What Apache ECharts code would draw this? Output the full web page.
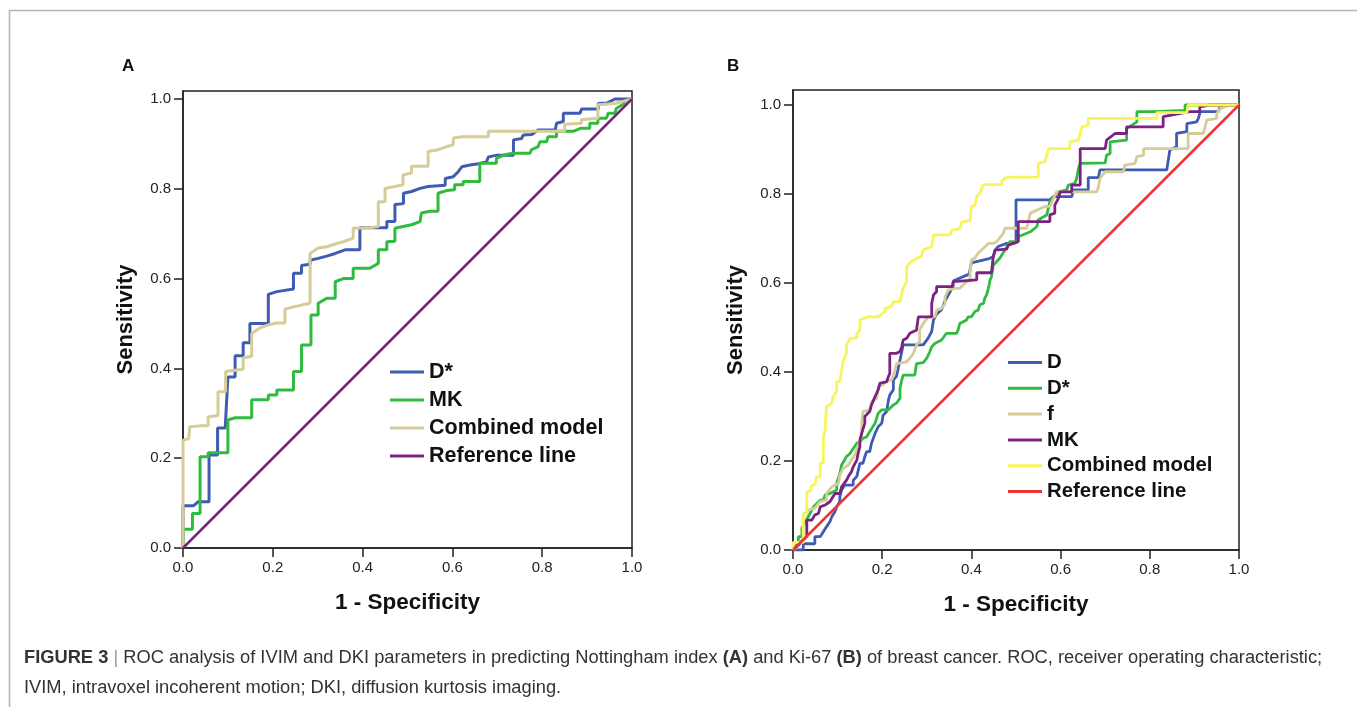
<!DOCTYPE html>
<html>
<head>
<meta charset="utf-8">
<title>ROC analysis</title>
<script src="https://cdn.jsdelivr.net/npm/echarts@6/dist/echarts.min.js"></script>
<style>
  html, body { margin: 0; padding: 0; background: #fff; }
  #chart { width: 1357px; height: 707px; }
</style>
</head>
<body>
<div id="chart"></div>
<script>
// ticks shared by both panels
const tickValues = [0, 0.2, 0.4, 0.6, 0.8, 1.0]

// Panel A: Nottingham index
const legendA = ['D*', 'MK', 'Combined model', 'Reference line']
const aDStar = [[0,0],[0,0.094],[0.023,0.094],[0.034,0.103],[0.058,0.103],[0.058,0.207],[0.077,0.207],[0.077,0.267],[0.094,0.267],[0.1,0.381],[0.116,0.381],[0.116,0.428],[0.134,0.428],[0.134,0.457],[0.149,0.457],[0.149,0.5],[0.19,0.5],[0.19,0.565],[0.209,0.571],[0.246,0.577],[0.246,0.612],[0.264,0.612],[0.264,0.629],[0.283,0.632],[0.283,0.641],[0.301,0.645],[0.32,0.65],[0.339,0.656],[0.361,0.664],[0.394,0.664],[0.394,0.713],[0.454,0.713],[0.454,0.727],[0.472,0.727],[0.472,0.765],[0.491,0.767],[0.491,0.79],[0.509,0.794],[0.528,0.801],[0.546,0.805],[0.546,0.808],[0.584,0.808],[0.584,0.823],[0.602,0.827],[0.613,0.838],[0.621,0.849],[0.639,0.853],[0.658,0.856],[0.676,0.86],[0.68,0.871],[0.699,0.875],[0.736,0.875],[0.736,0.909],[0.754,0.912],[0.758,0.92],[0.777,0.921],[0.791,0.931],[0.829,0.931],[0.832,0.946],[0.847,0.95],[0.847,0.968],[0.884,0.968],[0.888,0.978],[0.925,0.978],[0.925,0.99],[0.944,0.991],[0.962,1],[1,1]]
const aMK = [[0,0],[0,0.042],[0.021,0.042],[0.021,0.077],[0.038,0.077],[0.038,0.203],[0.056,0.203],[0.056,0.212],[0.1,0.212],[0.1,0.285],[0.116,0.29],[0.153,0.29],[0.153,0.33],[0.19,0.33],[0.19,0.341],[0.209,0.341],[0.209,0.352],[0.246,0.352],[0.246,0.393],[0.264,0.393],[0.264,0.452],[0.285,0.452],[0.285,0.519],[0.301,0.519],[0.301,0.545],[0.32,0.556],[0.339,0.556],[0.339,0.593],[0.357,0.6],[0.379,0.6],[0.379,0.623],[0.416,0.623],[0.435,0.634],[0.435,0.664],[0.454,0.664],[0.454,0.682],[0.472,0.683],[0.472,0.712],[0.49,0.716],[0.509,0.72],[0.528,0.727],[0.531,0.746],[0.55,0.75],[0.568,0.75],[0.568,0.79],[0.587,0.796],[0.605,0.798],[0.605,0.809],[0.624,0.809],[0.624,0.816],[0.661,0.816],[0.661,0.857],[0.698,0.857],[0.698,0.868],[0.717,0.876],[0.735,0.879],[0.773,0.879],[0.776,0.887],[0.791,0.894],[0.795,0.905],[0.81,0.905],[0.813,0.916],[0.832,0.916],[0.832,0.928],[0.869,0.928],[0.887,0.935],[0.906,0.935],[0.906,0.946],[0.924,0.946],[0.924,0.957],[0.943,0.957],[0.947,0.968],[0.962,0.968],[0.965,0.979],[1,1]]
const aCombined = [[0,0],[0,0.24],[0.013,0.244],[0.015,0.27],[0.037,0.272],[0.056,0.272],[0.056,0.292],[0.078,0.295],[0.078,0.348],[0.095,0.348],[0.095,0.393],[0.116,0.396],[0.134,0.398],[0.134,0.423],[0.153,0.427],[0.153,0.478],[0.171,0.49],[0.19,0.497],[0.208,0.501],[0.227,0.501],[0.227,0.532],[0.246,0.537],[0.264,0.541],[0.283,0.545],[0.283,0.656],[0.301,0.668],[0.32,0.671],[0.339,0.677],[0.357,0.682],[0.379,0.69],[0.379,0.712],[0.416,0.713],[0.435,0.716],[0.435,0.771],[0.45,0.771],[0.45,0.801],[0.472,0.805],[0.49,0.809],[0.49,0.831],[0.509,0.835],[0.509,0.85],[0.546,0.85],[0.546,0.883],[0.568,0.887],[0.587,0.894],[0.602,0.898],[0.602,0.913],[0.62,0.916],[0.68,0.916],[0.68,0.928],[0.85,0.928],[0.85,0.944],[0.887,0.946],[0.887,0.954],[0.924,0.957],[0.924,0.987],[0.962,0.99],[1,1]]
const aRef = [[0,0],[1,1]]

// Panel B: Ki-67
const legendB = ['D', 'D*', 'f', 'MK', 'Combined model', 'Reference line']
const bD = [[0,0],[0.023,0],[0.023,0.014],[0.049,0.014],[0.049,0.03],[0.061,0.03],[0.068,0.041],[0.075,0.052],[0.083,0.064],[0.087,0.075],[0.094,0.086],[0.098,0.097],[0.105,0.109],[0.105,0.12],[0.109,0.135],[0.116,0.146],[0.135,0.146],[0.135,0.157],[0.143,0.165],[0.15,0.195],[0.157,0.195],[0.161,0.21],[0.165,0.221],[0.172,0.221],[0.176,0.24],[0.184,0.262],[0.188,0.262],[0.191,0.277],[0.199,0.285],[0.202,0.303],[0.21,0.311],[0.214,0.337],[0.217,0.348],[0.225,0.36],[0.225,0.382],[0.232,0.39],[0.24,0.427],[0.247,0.461],[0.292,0.461],[0.303,0.476],[0.311,0.491],[0.315,0.517],[0.322,0.53],[0.333,0.54],[0.341,0.56],[0.355,0.585],[0.36,0.605],[0.395,0.62],[0.4,0.645],[0.44,0.655],[0.449,0.659],[0.453,0.674],[0.46,0.682],[0.479,0.689],[0.5,0.69],[0.5,0.787],[0.576,0.787],[0.584,0.794],[0.625,0.794],[0.629,0.809],[0.662,0.809],[0.662,0.837],[0.685,0.837],[0.688,0.854],[0.838,0.854],[0.845,0.899],[0.86,0.906],[0.86,0.936],[0.883,0.94],[0.883,0.958],[0.905,0.962],[0.909,0.97],[0.913,0.985],[0.954,0.985],[0.958,0.998],[1,1]]
const bDStar = [[0,0],[0.012,0.017],[0.012,0.03],[0.02,0.03],[0.02,0.049],[0.03,0.067],[0.038,0.082],[0.046,0.097],[0.061,0.112],[0.068,0.112],[0.072,0.124],[0.075,0.124],[0.083,0.127],[0.098,0.135],[0.098,0.15],[0.105,0.172],[0.109,0.191],[0.12,0.21],[0.128,0.217],[0.135,0.228],[0.143,0.24],[0.15,0.243],[0.157,0.251],[0.165,0.254],[0.172,0.266],[0.184,0.285],[0.191,0.307],[0.199,0.315],[0.214,0.315],[0.225,0.326],[0.232,0.33],[0.24,0.341],[0.24,0.364],[0.244,0.382],[0.247,0.393],[0.273,0.393],[0.277,0.419],[0.292,0.421],[0.3,0.431],[0.307,0.446],[0.311,0.457],[0.318,0.464],[0.333,0.472],[0.333,0.476],[0.344,0.487],[0.367,0.487],[0.37,0.494],[0.374,0.509],[0.389,0.517],[0.393,0.524],[0.4,0.524],[0.408,0.536],[0.415,0.539],[0.419,0.551],[0.427,0.554],[0.43,0.566],[0.434,0.573],[0.438,0.588],[0.442,0.607],[0.445,0.614],[0.449,0.64],[0.464,0.656],[0.475,0.674],[0.486,0.693],[0.505,0.693],[0.505,0.704],[0.532,0.715],[0.547,0.727],[0.55,0.742],[0.569,0.753],[0.576,0.783],[0.595,0.805],[0.614,0.809],[0.617,0.82],[0.632,0.824],[0.636,0.835],[0.64,0.858],[0.644,0.869],[0.7,0.87],[0.703,0.887],[0.711,0.891],[0.711,0.917],[0.748,0.921],[0.748,0.947],[0.771,0.962],[0.771,0.985],[0.812,0.985],[0.816,0.987],[0.879,0.988],[0.879,1],[1,1]]
const bF = [[0,0],[0.012,0.008],[0.023,0.023],[0.023,0.079],[0.035,0.09],[0.049,0.094],[0.061,0.109],[0.075,0.112],[0.075,0.127],[0.087,0.142],[0.102,0.15],[0.105,0.169],[0.113,0.184],[0.124,0.191],[0.131,0.202],[0.139,0.214],[0.143,0.228],[0.15,0.243],[0.154,0.258],[0.154,0.285],[0.157,0.311],[0.172,0.315],[0.176,0.333],[0.188,0.341],[0.191,0.367],[0.202,0.371],[0.206,0.378],[0.221,0.382],[0.228,0.401],[0.232,0.419],[0.255,0.423],[0.262,0.431],[0.27,0.442],[0.277,0.461],[0.284,0.468],[0.284,0.495],[0.292,0.509],[0.296,0.513],[0.303,0.524],[0.318,0.524],[0.322,0.539],[0.333,0.543],[0.341,0.554],[0.341,0.569],[0.348,0.584],[0.359,0.588],[0.374,0.588],[0.385,0.599],[0.397,0.607],[0.397,0.622],[0.4,0.626],[0.4,0.652],[0.408,0.656],[0.415,0.667],[0.427,0.678],[0.438,0.689],[0.449,0.689],[0.457,0.693],[0.472,0.712],[0.475,0.723],[0.524,0.723],[0.532,0.757],[0.565,0.772],[0.576,0.772],[0.584,0.79],[0.591,0.805],[0.681,0.805],[0.685,0.816],[0.688,0.835],[0.7,0.85],[0.741,0.85],[0.744,0.865],[0.767,0.869],[0.771,0.884],[0.786,0.887],[0.786,0.902],[0.886,0.902],[0.886,0.936],[0.92,0.936],[0.924,0.951],[0.928,0.966],[0.95,0.97],[0.95,0.981],[0.958,0.992],[0.98,1],[1,1]]
const bMK = [[0,0],[0.031,0.031],[0.031,0.067],[0.042,0.067],[0.049,0.079],[0.057,0.082],[0.061,0.097],[0.072,0.101],[0.083,0.109],[0.09,0.12],[0.094,0.127],[0.105,0.127],[0.109,0.142],[0.12,0.157],[0.124,0.165],[0.131,0.176],[0.135,0.187],[0.143,0.202],[0.146,0.217],[0.15,0.232],[0.15,0.247],[0.154,0.262],[0.161,0.285],[0.161,0.3],[0.172,0.311],[0.176,0.326],[0.184,0.345],[0.191,0.36],[0.195,0.375],[0.21,0.378],[0.214,0.39],[0.217,0.397],[0.217,0.442],[0.232,0.442],[0.24,0.446],[0.244,0.457],[0.247,0.472],[0.255,0.476],[0.262,0.487],[0.27,0.491],[0.277,0.494],[0.281,0.524],[0.311,0.524],[0.311,0.554],[0.315,0.573],[0.322,0.581],[0.322,0.592],[0.359,0.592],[0.359,0.603],[0.412,0.607],[0.412,0.623],[0.445,0.623],[0.449,0.659],[0.453,0.674],[0.479,0.676],[0.483,0.685],[0.487,0.689],[0.505,0.693],[0.505,0.738],[0.576,0.738],[0.576,0.753],[0.587,0.757],[0.587,0.775],[0.595,0.79],[0.599,0.805],[0.625,0.805],[0.625,0.82],[0.644,0.82],[0.644,0.902],[0.7,0.902],[0.703,0.921],[0.722,0.936],[0.748,0.936],[0.748,0.951],[0.83,0.951],[0.83,0.974],[0.89,0.985],[0.912,0.985],[0.912,0.996],[0.935,1],[1,1]]
const bCombined = [[0,0],[0,0.017],[0.023,0.017],[0.023,0.079],[0.031,0.082],[0.031,0.131],[0.038,0.131],[0.042,0.146],[0.049,0.146],[0.053,0.165],[0.061,0.165],[0.061,0.195],[0.068,0.196],[0.068,0.254],[0.072,0.269],[0.075,0.322],[0.087,0.33],[0.09,0.345],[0.098,0.356],[0.098,0.378],[0.105,0.378],[0.109,0.404],[0.113,0.427],[0.12,0.442],[0.12,0.461],[0.128,0.476],[0.143,0.476],[0.143,0.487],[0.15,0.494],[0.15,0.517],[0.169,0.524],[0.191,0.524],[0.206,0.536],[0.206,0.543],[0.221,0.547],[0.225,0.558],[0.24,0.558],[0.244,0.577],[0.247,0.588],[0.255,0.603],[0.255,0.637],[0.262,0.645],[0.277,0.656],[0.288,0.66],[0.292,0.674],[0.311,0.682],[0.315,0.708],[0.352,0.708],[0.356,0.719],[0.374,0.722],[0.378,0.737],[0.397,0.741],[0.4,0.771],[0.408,0.775],[0.412,0.794],[0.419,0.802],[0.427,0.821],[0.468,0.821],[0.468,0.828],[0.475,0.836],[0.486,0.838],[0.55,0.838],[0.55,0.869],[0.565,0.872],[0.569,0.887],[0.573,0.902],[0.621,0.902],[0.621,0.917],[0.64,0.921],[0.644,0.936],[0.648,0.951],[0.662,0.955],[0.662,0.97],[0.816,0.97],[0.816,0.983],[0.883,0.983],[0.886,1],[1,1]]
const bRef = [[0,0],[1,1]]

const colorsA = ['#3f5bb2', '#2fbb3e', '#d5cc97', '#7c2280']
const colorsB = ['#3f5bb2', '#2fbb3e', '#d5cc97', '#7c2280', '#f8f55c', '#ef3434']

const FONT = '"Liberation Sans", Arial, Helvetica, sans-serif'

const chart = echarts.init(document.getElementById('chart'), null, { renderer: 'canvas' })

const makeGrid = (left, top, width, height) => ({
  left, top, width, height,
  show: true,
  borderColor: '#222',
  borderWidth: 1.5,
  containLabel: false
})

const makeX = (gridIndex) => ({
  gridIndex,
  type: 'value',
  min: 0,
  max: 1,
  interval: 0.2,
  name: '1 - Specificity',
  nameLocation: 'middle',
  nameGap: 43,
  nameTextStyle: { fontFamily: FONT, fontWeight: 'bold', fontSize: 22.5, color: '#111' },
  axisLine: { show: true, lineStyle: { color: '#222', width: 1.5 } },
  axisTick: { show: true, length: 9, lineStyle: { color: '#222', width: 1.5 } },
  axisLabel: { margin: 12, fontFamily: FONT, fontSize: 15, color: '#222', formatter: v => v.toFixed(1) },
  splitLine: { show: false }
})

const makeY = (gridIndex, max) => ({
  gridIndex,
  type: 'value',
  min: 0,
  max,
  name: 'Sensitivity',
  nameLocation: 'middle',
  nameGap: 46,
  nameRotate: 90,
  nameTextStyle: { fontFamily: FONT, fontWeight: 'bold', fontSize: 22, color: '#111' },
  axisLine: { show: true, lineStyle: { color: '#222', width: 1.5 } },
  axisTick: { show: true, length: 9, customValues: tickValues, lineStyle: { color: '#222', width: 1.5 } },
  axisLabel: {
    margin: 12, fontFamily: FONT, fontSize: 15, color: '#222',
    customValues: tickValues,
    formatter: v => v.toFixed(1)
  },
  splitLine: { show: false }
})

const makeSeries = (panel, name, data, color, idx, width) => ({
  name: panel + '|' + name,
  type: 'line',
  xAxisIndex: idx,
  yAxisIndex: idx,
  data,
  symbol: 'none',
  showSymbol: false,
  lineStyle: { color, width },
  itemStyle: { color },
  emphasis: { disabled: true }
})

const seriesA = [aDStar, aMK, aCombined, aRef].map((d, i) =>
  makeSeries('A', legendA[i], d, colorsA[i], 0, i === 3 ? 2.5 : 3))
const seriesB = [bD, bDStar, bF, bMK, bCombined, bRef].map((d, i) =>
  makeSeries('B', legendB[i], d, colorsB[i], 1, i === 5 ? 2.5 : 2.8))

const makeLegend = (panel, names, left, top, fontSize, gap) => ({
  orient: 'vertical',
  left, top,
  data: names.map(n => panel + '|' + n),
  icon: 'rect',
  itemWidth: 34,
  itemHeight: 3,
  itemGap: gap,
  selectedMode: false,
  formatter: n => n.split('|')[1],
  textStyle: { fontFamily: FONT, fontWeight: 'bold', fontSize, lineHeight: 21, color: '#111' }
})

const captionText =
  '{b|FIGURE 3} {s||} ROC analysis of IVIM and DKI parameters in predicting Nottingham index {b|(A)} and Ki-67 {b|(B)} of breast cancer. ROC, receiver operating characteristic;'
const captionText2 = 'IVIM, intravoxel incoherent motion; DKI, diffusion kurtosis imaging.'

const option = {
  animation: false,
  backgroundColor: '#fff',
  grid: [makeGrid(183, 91, 449, 457), makeGrid(793, 90, 446, 460)],
  xAxis: [makeX(0), makeX(1)],
  yAxis: [makeY(0, 457 / 449), makeY(1, 460 / 445)],
  legend: [
    makeLegend('A', legendA, 385, 356, 21.5, 6),
    makeLegend('B', legendB, 1003, 347, 20.4, 4.8)
  ],
  series: [...seriesA, ...seriesB],
  graphic: [
    {
      type: 'polyline',
      shape: { points: [[9.5, 707], [9.5, 10.5], [1357, 10.5]] },
      style: { stroke: '#b4b4b4', lineWidth: 1.5, fill: null },
      silent: true
    },
    {
      type: 'text', left: 122, top: 58,
      style: { text: 'A', font: 'bold 17px ' + FONT, fill: '#111' }
    },
    {
      type: 'text', left: 727, top: 58,
      style: { text: 'B', font: 'bold 17px ' + FONT, fill: '#111' }
    },
    {
      type: 'text', left: 24, top: 649,
      style: {
        text: captionText,
        fontFamily: FONT, fontSize: 18.3, fill: '#333',
        rich: {
          b: { fontFamily: FONT, fontSize: 18.3, fontWeight: 'bold', fill: '#333' },
          s: { fontFamily: FONT, fontSize: 18.3, fill: '#999' }
        }
      }
    },
    {
      type: 'text', left: 24, top: 679,
      style: { text: captionText2, fontFamily: FONT, fontSize: 18.3, fill: '#333' }
    }
  ]
}

chart.setOption(option)

window.addEventListener('resize', () => {
  chart.resize()
})
</script>
</body>
</html>
